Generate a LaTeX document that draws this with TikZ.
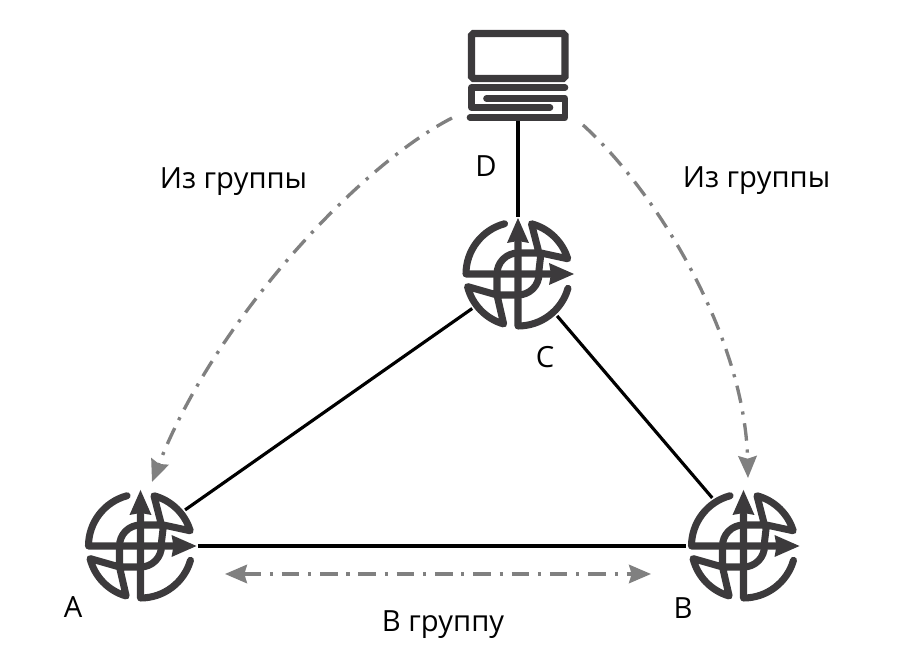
\documentclass[tikz,border=0pt]{standalone}
\usepackage{fontspec}
\setmainfont{Open Sans}
\usetikzlibrary{arrows.meta}
\definecolor{icongray}{RGB}{60,58,60}
\definecolor{linkgray}{RGB}{128,128,128}
\tikzset{
  router/.style={circle,minimum size=2.28cm,inner sep=0pt},
  laptop/.style={minimum width=2cm,minimum height=1.82cm,inner sep=0pt},
  wire/.style={black,line width=2.4pt},
  thinwire/.style={black,line width=1.8pt},
  flow/.style={linkgray,line width=1.9pt,dash pattern=on 10pt off 5pt on 1.8pt off 5pt,
    {Stealth[length=12.5pt,width=10.5pt,inset=1.5pt]}-{Stealth[length=12.5pt,width=10.5pt,inset=1.5pt]}},
  flowend/.style={linkgray,line width=1.9pt,dash pattern=on 10pt off 5pt on 1.8pt off 5pt,
    -{Stealth[length=12.5pt,width=10.5pt,inset=1.5pt]}},
  tag/.style={font=\fontsize{16.6}{19}\selectfont,text=black,inner sep=0pt},
  routericon/.pic={
    \begin{scope}[scale=0.02,icongray,line width=4pt,line join=round,line cap=round]
    \draw (105:52) arc[start angle=105,end angle=180,radius=52] -- (36,0);
    \draw (0,32) -- (0,-52) arc[start angle=-90,end angle=-16,radius=52];
    \draw (75:52) arc[start angle=75,end angle=17,radius=52] -- (23,21) -- (21,4) -- (21,0)
      arc[start angle=0,end angle=-90,radius=21] -- (-21,-21) -- (194:52)
      arc[start angle=194,end angle=254,radius=52] -- (-21,-21) -- (-21,0)
      arc[start angle=180,end angle=90,radius=21] -- (21,21) -- cycle;
    \fill (56,0) -- (31,11) -- (33,0) -- (31,-11) -- cycle;
    \fill (0,56) -- (-11,31) -- (0,33) -- (11,31) -- cycle;
    \end{scope}
  }
}
\begin{document}
\begin{tikzpicture}
\useasboundingbox (0,0) rectangle (17.94,13.1);
\node[router] (rtA) at (2.81,2.18) {};
\node[router] (rtB) at (14.87,2.18) {};
\node[router] (rtC) at (10.36,7.62) {};
\node[laptop] (pc) at (10.36,11.6) {};
\pic at (rtA) {routericon};
\pic at (rtB) {routericon};
\pic at (rtC) {routericon};
% laptop
\draw[icongray,line width=4pt,rounded corners=1pt] (9.43,12.43) rectangle (11.3,11.53);
\draw[icongray,line width=3.8pt,line cap=round,line join=round] (11.3,11.35) -- (9.43,11.35) -- (9.43,10.95) -- (11,10.95);
\draw[icongray,line width=3.8pt,line cap=round,line join=round] (9.73,11.13) -- (11.3,11.13) -- (11.3,10.75) -- (9.4,10.75);
% links
\draw[wire] (pc) -- (rtC);
\draw[thinwire] (rtA.39) -- (rtC.217);
\draw[thinwire] (rtC.-47) -- (rtB.123);
\draw[wire] (rtA) -- (rtB);
% group traffic
\coordinate (leftstart) at (9.04,10.74);
\coordinate (leftend) at (3.04,3.46);
\coordinate (rightstart) at (11.66,10.6);
\coordinate (rightend) at (14.96,3.54);
\coordinate (groupleft) at (4.5,1.62);
\coordinate (groupright) at (13.02,1.62);
\draw[flowend] (leftstart) .. controls (7.2,9.8) and (4.3,6.7) .. (leftend);
\draw[flowend] (rightstart) .. controls (13.2,9.2) and (14.9,6.3) .. (rightend);
\draw[flow] (groupleft) -- (groupright);
\node[tag] (lblout1) at (4.67,9.47) {Из группы};
\node[tag] (lblout2) at (15.13,9.49) {Из группы};
\node[tag] (lblin) at (8.86,0.6) {В группу};
\node[tag] (lblA) at (1.46,0.96) {A};
\node[tag] (lblB) at (13.66,0.94) {B};
\node[tag] (lblC) at (10.9,5.96) {C};
\node[tag] (lblD) at (9.72,9.78) {D};
\end{tikzpicture}
\end{document}
